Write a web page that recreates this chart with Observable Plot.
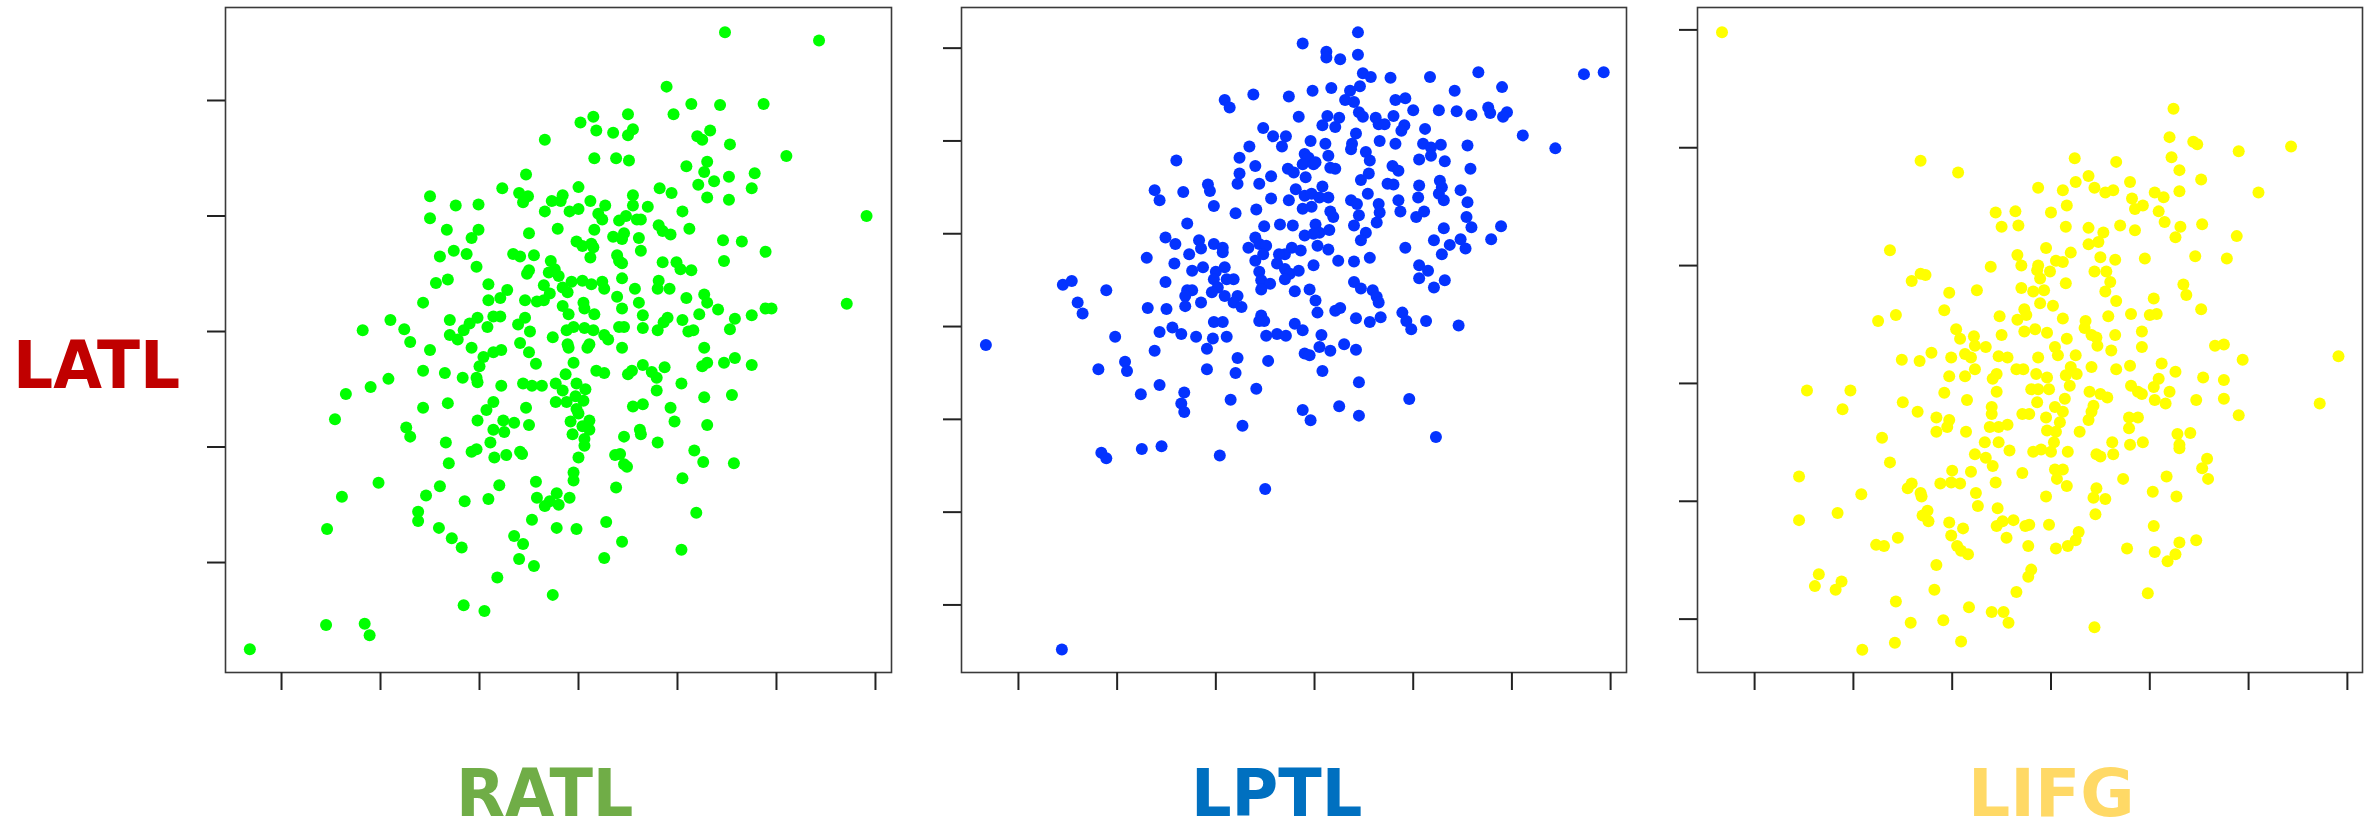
<!DOCTYPE html>
<html><head><meta charset="utf-8">
<script src="https://cdn.jsdelivr.net/npm/d3@7"></script>
<script src="https://cdn.jsdelivr.net/npm/@observablehq/plot@0.6"></script>
<style>
html,body{margin:0;padding:0;background:#fff;}
#root{position:relative;width:2376px;height:832px;overflow:hidden;background:#fff;}
.panel{position:absolute;top:0;}
.lab{position:absolute;font-family:"DejaVu Sans",Verdana,sans-serif;font-weight:bold;font-size:65px;line-height:48px;height:48px;white-space:nowrap;transform-origin:0 50%;}
</style></head>
<body><div id="root"></div>
<script>
// Row / column region names
const rowLabel = "LATL";
const colLabels = ["RATL", "LPTL", "LIFG"];
const colColors = ["#70AD47", "#0070C0", "#FFD966"];
const pointColors = ["#00ff00", "#0433ff", "#ffff00"];

// tick values
const xTicks = [-3, -2, -1, 0, 1, 2, 3];
const yTicksRATL = [-2, -1, 0, 1, 2];
const yTicksLPTL = [-3, -2, -1, 0, 1, 2, 3];
const yTicksLIFG = [-2, -1, 0, 1, 2, 3];

// [x, LATL] pairs
const ratlLatl = [
[1.48,2.59],[2.43,2.52],[0.89,2.12],[1.14,1.97],[1.43,1.96],[1.87,1.97],[0.96,1.88],[0.50,1.88],[0.15,1.86],[0.02,1.81],[0.18,1.74],[0.35,1.72],[0.55,1.75],[0.50,1.70],[1.20,1.69],[1.33,1.74],[1.25,1.66],[1.53,1.62],[-0.34,1.66],[2.10,1.52],[0.16,1.50],[0.38,1.50],[0.51,1.48],[1.09,1.43],[1.30,1.47],[1.27,1.38],[1.52,1.34],[1.78,1.37],[1.37,1.30],[1.21,1.27],[-0.53,1.36],[-0.77,1.24],[0.00,1.25],[-0.60,1.20],[-0.51,1.17],[-0.56,1.12],[-1.50,1.17],[-1.24,1.09],[-1.01,1.10],[-0.16,1.18],[-0.27,1.13],[-0.18,1.13],[0.12,1.13],[0.27,1.09],[0.55,1.18],[0.55,1.09],[0.70,1.08],[0.82,1.24],[0.94,1.20],[1.30,1.16],[1.52,1.14],[1.75,1.24],[1.05,1.04],[-0.34,1.04],[-0.09,1.04],[0.00,1.06],[0.20,1.02],[0.24,0.97],[0.41,0.96],[0.48,1.00],[0.59,0.97],[0.63,0.97],[2.91,1.00],[-1.50,0.98],
[-1.33,0.88],[-1.01,0.88],[-1.08,0.81],[-0.50,0.85],[-0.21,0.89],[0.16,0.88],[0.81,0.92],[0.85,0.87],[0.93,0.84],[1.12,0.89],[0.35,0.82],[0.46,0.85],[0.44,0.80],[0.61,0.81],[-0.02,0.78],[0.04,0.74],[0.13,0.76],[0.15,0.73],[0.63,0.70],[1.46,0.79],[1.65,0.78],[1.89,0.69],[-1.40,0.65],[-1.26,0.70],[-1.13,0.67],[-1.03,0.56],[-0.66,0.67],[-0.59,0.65],[-0.45,0.66],[-0.28,0.61],[-0.24,0.54],[-0.20,0.48],[-0.30,0.51],[-0.52,0.50],[-0.50,0.53],[0.12,0.64],[0.39,0.66],[0.41,0.61],[0.44,0.59],[0.85,0.60],[0.99,0.60],[1.03,0.54],[1.14,0.53],[1.47,0.61],[-1.44,0.42],[-1.32,0.45],[-0.91,0.41],[-0.72,0.36],[-0.79,0.29],[-0.91,0.27],[-1.57,0.25],[-0.54,0.27],[-0.42,0.26],[-0.35,0.27],[-0.29,0.33],[-0.35,0.40],[-0.16,0.38],[-0.07,0.43],[0.04,0.44],[0.13,0.41],[0.24,0.43],[0.26,0.37],[-0.11,0.34],[-0.16,0.22],[-0.10,0.15],[0.05,0.25],[0.06,0.20],[0.16,0.15],[0.39,0.30],[0.44,0.20],[0.57,0.37],[0.44,0.46],[0.61,0.25],[0.65,0.14],[0.81,0.44],[0.80,0.37],[0.92,0.37],[1.09,0.29],[1.27,0.32],[1.30,0.25],[1.41,0.19],[1.22,0.15],[0.90,0.12],[0.86,0.08],[1.05,0.10],[1.58,0.11],[1.75,0.14],[1.89,0.20],[1.95,0.20],[2.71,0.24],[-2.18,0.01],[-1.90,0.10],[-1.76,0.02],[-1.70,-0.09],[-1.50,-0.16],[-1.30,0.10],[-1.30,-0.03],[-1.22,-0.07],[-1.16,0.01],[-1.10,0.07],[-1.02,0.12],[-0.92,0.04],[-0.86,0.13],[-0.79,0.13],[-1.08,-0.14],[-0.96,-0.22],[-1.00,-0.30],[-0.86,-0.18],[-0.78,-0.16],[-0.61,0.06],[-0.54,0.12],[-0.49,0.00],[-0.59,-0.10],[-0.50,-0.18],[-0.43,-0.28],[-0.26,-0.05],[-0.12,0.01],[-0.05,0.04],[0.06,0.03],[0.15,0.01],[0.26,-0.03],[0.30,-0.07],[-0.11,-0.11],[-0.10,-0.14],[0.11,-0.11],[0.09,-0.14],[0.41,0.04],[0.46,0.04],[0.44,-0.14],[0.65,0.03],[0.80,0.01],[1.11,0.00],[1.16,0.01],[1.53,0.02],[1.27,-0.14],[1.25,-0.30],[1.30,-0.27],[1.47,-0.27],[1.58,-0.23],[1.75,-0.29],[-1.57,-0.34],[-1.35,-0.36],[-1.92,-0.41],[-2.10,-0.48],[-2.35,-0.54],[-1.17,-0.40],[-1.03,-0.40],[-1.02,-0.44],[-0.78,-0.47],[-0.56,-0.45],[-0.47,-0.47],[-0.37,-0.47],[-0.23,-0.45],[-0.13,-0.37],[-0.16,-0.51],[-0.02,-0.45],[0.07,-0.50],[0.18,-0.34],[0.26,-0.36],[-0.05,-0.27],[0.50,-0.37],[0.54,-0.34],[0.65,-0.29],[0.74,-0.35],[0.79,-0.40],[0.87,-0.31],[0.79,-0.51],[1.04,-0.45],[1.55,-0.55],[1.27,-0.57],[-1.57,-0.66],[-1.32,-0.62],[-0.93,-0.68],[-0.86,-0.61],[-0.53,-0.66],[-0.23,-0.61],[-0.12,-0.61],[-0.03,-0.56],[0.05,-0.60],[-0.02,-0.67],[0.00,-0.71],[-0.08,-0.78],[0.11,-0.77],[0.04,-0.82],[0.11,-0.85],[-0.06,-0.89],[0.06,-0.93],[0.55,-0.65],[0.65,-0.63],[0.93,-0.66],[0.97,-0.78],[1.30,-0.81],[-2.46,-0.76],[-1.74,-0.83],[-1.70,-0.91],[-1.02,-0.77],[-0.86,-0.85],[-0.76,-0.77],[-0.65,-0.79],[-0.75,-0.87],[-0.50,-0.81],[0.46,-0.91],[0.62,-0.85],[0.63,-0.89],[0.80,-0.96],[-1.34,-0.96],[-0.89,-0.96],
[-1.08,-1.04],[-1.03,-1.02],[-0.85,-1.09],[-0.73,-1.07],[-0.59,-1.04],[-0.57,-1.06],[0.06,-0.99],[1.17,-1.03],[1.26,-1.13],[1.57,-1.14],[0.37,-1.07],[0.42,-1.06],[0.46,-1.15],[0.49,-1.17],[0.00,-1.09],[-0.05,-1.22],[-0.05,-1.29],[-1.31,-1.14],[-2.02,-1.31],[-2.39,-1.43],[-1.40,-1.34],[-1.54,-1.42],[-1.15,-1.47],[-0.91,-1.45],[-0.80,-1.33],[-0.43,-1.30],[-0.42,-1.44],[-0.34,-1.51],[-0.29,-1.47],[-0.22,-1.40],[-0.20,-1.50],[-0.09,-1.44],[0.38,-1.35],[1.05,-1.27],[-1.62,-1.56],[-1.62,-1.64],[-1.41,-1.70],[-1.28,-1.79],[-1.18,-1.87],[-2.54,-1.71],[-0.65,-1.77],[-0.56,-1.84],[-0.47,-1.63],[-0.22,-1.70],[-0.02,-1.71],[0.28,-1.65],[0.44,-1.82],[0.26,-1.96],[1.04,-1.89],[1.19,-1.57],[-0.60,-1.97],[-0.45,-2.03],[-0.82,-2.13],[-0.26,-2.28],[-1.16,-2.37],[-0.95,-2.42],[-2.55,-2.54],[-2.16,-2.53],[-2.11,-2.63],[-3.32,-2.75]
];

const lptlLatl = [
[0.44,3.17],[-0.12,3.05],[0.12,2.96],[0.12,2.90],[0.26,2.88],[0.44,2.93],[0.49,2.73],[0.57,2.69],[0.77,2.68],[1.17,2.69],[1.66,2.74],[2.73,2.72],[2.93,2.74],[0.17,2.57],[-0.02,2.54],[-0.26,2.48],[-0.62,2.50],[-0.91,2.44],[-0.86,2.36],[0.36,2.54],[0.46,2.59],[0.31,2.44],[0.40,2.42],[0.45,2.31],[0.49,2.26],[0.82,2.44],[0.92,2.46],[1.00,2.33],[0.80,2.27],[1.26,2.33],[1.44,2.32],[1.42,2.54],[1.59,2.28],[1.76,2.36],[1.78,2.30],[1.90,2.58],[1.95,2.31],[1.91,2.26],[-0.16,2.26],[0.13,2.27],[0.08,2.17],[0.25,2.25],[0.21,2.15],[0.62,2.25],[0.65,2.18],[0.71,2.18],[0.91,2.17],[0.88,2.11],[1.12,2.13],[-0.52,2.14],[-0.42,2.05],[-0.29,2.05],[-0.33,1.94],[-0.04,2.00],[0.11,1.97],[0.42,2.08],[0.38,1.97],[0.37,1.91],[0.52,1.88],[0.56,1.79],[0.66,2.00],[0.82,1.97],[1.10,1.97],[1.18,1.93],[1.28,1.96],[1.55,1.95],[2.11,2.06],[2.44,1.92],[-0.66,1.94],[-0.76,1.82],[-1.40,1.79],[-0.60,1.73],[-0.44,1.62],[-0.10,1.86],[-0.06,1.82],[-0.12,1.75],[-0.01,1.75],[0.01,1.77],[0.14,1.84],[0.16,1.71],[0.21,1.70],[-0.27,1.70],[-0.21,1.66],[-0.09,1.61],[-0.76,1.65],[-0.78,1.54],[-0.56,1.54],[0.79,1.73],[0.85,1.68],[1.06,1.80],[1.18,1.84],[1.32,1.78],[1.58,1.70],[0.47,1.58],[0.55,1.65],[0.74,1.54],[0.80,1.53],[1.06,1.52],[1.27,1.57],[1.29,1.50],[1.48,1.47],[-1.62,1.47],[-1.57,1.36],[-1.33,1.45],[-1.08,1.53],[-1.06,1.46],[-1.02,1.30],[-0.80,1.22],[-0.59,1.26],[-0.44,1.38],[-0.26,1.36],[-0.19,1.48],[-0.10,1.41],[-0.03,1.43],[0.08,1.51],[0.05,1.39],[0.14,1.39],[-0.12,1.27],[-0.03,1.29],[0.16,1.24],[0.19,1.18],[0.37,1.36],[0.43,1.32],[0.54,1.43],[0.65,1.32],[0.66,1.23],[0.85,1.36],[0.87,1.24],[1.05,1.39],[1.03,1.18],[1.11,1.24],[1.26,1.43],[1.31,1.36],[1.55,1.34],[1.54,1.18],[0.45,1.20],
[-1.29,1.11],[-0.51,1.08],[-0.35,1.10],[-0.22,1.09],[0.01,1.10],[0.05,1.01],[0.15,1.04],[0.40,1.09],[0.63,1.12],[1.31,1.06],[1.59,1.07],[1.89,1.08],[-1.51,0.96],[-1.41,0.89],[-1.17,0.93],[-1.15,0.84],[-1.27,0.78],[-1.02,0.89],[-0.93,0.85],[-0.93,0.80],[-0.60,0.96],[-0.67,0.85],[-0.56,0.89],[-0.49,0.87],[-0.60,0.71],[-0.52,0.78],[-0.30,0.78],[-0.23,0.85],[-0.14,0.82],[-0.10,0.98],[-0.01,1.00],[0.03,0.87],[0.14,0.83],[0.52,1.01],[0.47,0.93],[0.24,0.71],[0.40,0.70],[0.56,0.74],[0.92,0.85],[1.21,0.93],[1.37,0.88],[1.48,0.94],[1.53,0.84],[1.79,0.94],[1.29,0.78],[-1.70,0.74],[-1.42,0.68],[-1.24,0.60],[-1.13,0.64],[-1.00,0.59],[-0.91,0.64],[-1.02,0.51],[-0.89,0.51],[-0.82,0.51],[-0.56,0.59],[-0.38,0.68],[-0.36,0.78],[-0.30,0.62],[-0.25,0.57],[-0.16,0.60],[-0.01,0.66],[-0.54,0.50],[-0.45,0.46],[-0.30,0.51],[1.06,0.66],[1.15,0.60],[1.06,0.52],[1.32,0.50],[1.21,0.42],[-2.55,0.45],[-2.46,0.49],[-2.11,0.39],[-1.51,0.48],[-1.29,0.39],[-1.24,0.39],[-1.31,0.33],[-0.98,0.42],[-1.04,0.37],[-0.78,0.33],[-0.91,0.33],[-0.82,0.26],[-0.74,0.21],[-1.15,0.26],[-0.54,0.40],[-0.20,0.38],[-0.05,0.40],[0.01,0.28],[0.03,0.15],[0.21,0.17],[0.26,0.20],[0.40,0.48],[0.47,0.41],[0.59,0.39],[0.63,0.32],[0.65,0.26],[0.42,0.09],[0.56,0.05],[0.67,0.10],[0.89,0.15],[0.93,0.06],[0.98,-0.03],[1.13,0.06],[1.46,0.01],[-2.40,0.26],[-2.35,0.14],[-1.69,0.20],[-1.50,0.19],[-1.31,0.22],[-1.44,-0.01],[-1.35,-0.08],[-1.57,-0.06],[-1.20,-0.11],[-1.02,0.05],[-0.93,0.05],[-1.03,-0.13],[-1.09,-0.24],[-0.89,-0.11],[-0.54,0.12],[-0.51,0.06],[-0.56,0.06],[-0.49,-0.10],[-0.38,-0.08],[-0.29,-0.10],[-0.20,0.03],[-0.12,-0.04],[0.07,-0.09],[0.05,-0.22],[0.16,-0.26],[0.30,-0.19],[0.42,-0.25],[-0.10,-0.29],[-0.05,-0.31],[-3.33,-0.20],[-2.02,-0.11],[-1.62,-0.26],[-1.92,-0.38],[-1.90,-0.48],[-2.19,-0.46],[-1.09,-0.46],[-0.78,-0.34],[-0.80,-0.50],[-0.47,-0.37],[0.08,-0.48],[-1.57,-0.63],[-1.76,-0.73],[-1.32,-0.71],[-1.35,-0.83],[-1.32,-0.92],[-0.85,-0.79],[-0.59,-0.67],[-0.12,-0.90],[-0.04,-1.01],[0.25,-0.86],[0.45,-0.60],[0.45,-0.96],[0.96,-0.78],[-0.73,-1.07],[1.23,-1.19],
[-2.16,-1.36],[-2.11,-1.42],[-1.75,-1.32],[-1.55,-1.29],[-0.96,-1.39],[-0.50,-1.75],[-2.56,-3.48]
];

const lifgLatl = [
[-3.33,2.98],[1.24,2.33],[1.20,2.09],[1.44,2.05],[1.48,2.03],[1.90,1.97],[2.43,2.01],[-1.32,1.89],[-0.94,1.79],[0.24,1.91],[0.66,1.88],[1.22,1.92],[1.30,1.81],[1.52,1.73],[2.10,1.62],[0.38,1.76],[0.25,1.71],[-0.13,1.66],[0.12,1.64],[0.44,1.66],[0.55,1.62],[0.63,1.64],[0.80,1.71],[0.82,1.57],[1.05,1.62],[1.14,1.58],[1.30,1.63],[0.16,1.51],[0.00,1.45],[-0.56,1.45],[-0.36,1.46],[0.93,1.51],[0.85,1.48],[1.09,1.46],
[-0.50,1.33],[-0.33,1.34],[0.15,1.33],[0.38,1.32],[0.53,1.28],[0.70,1.34],[0.85,1.30],[1.15,1.37],[1.31,1.33],[1.53,1.35],[1.88,1.25],[1.26,1.24],[-1.63,1.13],[-0.05,1.15],[0.20,1.11],[0.38,1.18],[0.48,1.20],[0.50,1.07],[0.65,1.05],[0.95,1.06],[1.46,1.08],[1.78,1.06],[-0.34,1.09],[-0.30,1.00],[-0.13,1.00],[-0.14,0.96],[0.05,1.04],[0.12,1.03],[-0.01,0.95],[-0.11,0.89],[0.15,0.85],[0.44,0.95],[0.56,0.95],[0.60,0.86],[-0.61,0.99],[-1.41,0.87],[-1.32,0.93],[-1.27,0.92],[-1.03,0.77],[-0.75,0.79],[-0.30,0.81],[-0.18,0.78],[-0.07,0.79],[0.55,0.78],[0.66,0.70],[1.04,0.72],[1.34,0.84],[1.37,0.75],[1.52,0.63],[-1.08,0.62],[-0.52,0.57],[-0.34,0.54],[-0.27,0.63],[-0.25,0.58],[-0.11,0.68],[0.02,0.66],[0.12,0.55],[0.35,0.53],[0.34,0.47],[0.58,0.57],[0.81,0.59],[1.00,0.58],[1.07,0.59],[-1.75,0.53],[-1.57,0.58],[-0.96,0.46],[-0.92,0.38],[-0.78,0.40],[-0.77,0.32],[-0.66,0.31],[-0.50,0.41],[-0.27,0.44],[-0.16,0.46],[-0.04,0.43],[0.16,0.38],[0.04,0.31],[0.07,0.24],[0.41,0.41],[0.46,0.39],[0.47,0.32],[0.65,0.41],[0.61,0.28],[0.92,0.44],[0.92,0.31],[1.66,0.32],[1.75,0.33],[2.91,0.23],[-1.51,0.20],[-1.33,0.19],[-1.21,0.26],[-1.01,0.22],[-0.87,0.25],[-0.81,0.22],[-0.53,0.23],[-0.44,0.22],[-0.13,0.22],[0.25,0.24],[0.20,0.14],[0.15,0.07],[0.26,0.08],[0.41,0.14],[0.66,0.12],[0.80,0.15],[1.12,0.17],[1.26,0.10],[1.09,0.04],[1.94,0.20],[-0.35,0.12],[-0.28,0.12],[-0.77,0.12],[-0.87,0.06],[-1.03,0.06],[-0.55,0.08],[-0.59,0.04],[-0.15,0.08],[-0.04,0.05],[-0.55,-0.07],[-0.20,-0.05],[-0.13,-0.05],[-0.02,-0.05],[0.19,-0.02],[0.14,-0.13],[0.39,-0.07],[0.50,-0.09],[0.57,-0.12],[0.81,-0.02],[0.88,-0.07],[0.92,-0.09],[1.04,-0.03],[1.20,-0.07],[1.05,-0.14],[1.16,-0.17],[1.47,-0.14],[1.54,0.05],[1.75,0.03],[1.75,-0.13],[1.90,-0.27],[2.72,-0.17],[-2.47,-0.06],[-2.03,-0.06],[-2.11,-0.22],[-1.50,-0.16],[-1.35,-0.24],[-1.08,-0.08],[-0.85,-0.14],[-0.60,-0.20],[-0.60,-0.26],[-1.16,-0.29],[-1.03,-0.31],[-1.05,-0.37],[-1.16,-0.41],[-0.86,-0.41],[-0.62,-0.37],[-0.53,-0.37],[-0.44,-0.35],[-0.29,-0.26],[-0.22,-0.26],[-0.14,-0.16],[-0.05,-0.29],[0.04,-0.20],[0.12,-0.24],[0.09,-0.33],[-0.04,-0.40],[0.05,-0.41],[0.43,-0.19],[0.41,-0.24],[0.38,-0.31],[0.29,-0.41],[0.79,-0.29],[0.88,-0.29],[0.79,-0.38],[1.28,-0.43],[1.41,-0.42],[-1.71,-0.46],[-0.67,-0.50],[-0.53,-0.50],[0.62,-0.50],[0.80,-0.52],[0.93,-0.50],[1.30,-0.52],
[-0.42,-0.57],[-0.18,-0.58],[-0.10,-0.56],[0.00,-0.58],[0.17,-0.58],[0.03,-0.50],[-0.77,-0.60],[-0.66,-0.63],[-0.59,-0.70],[0.46,-0.60],[0.50,-0.62],[0.63,-0.60],[1.30,-0.55],[-1.63,-0.67],[-2.55,-0.79],[-1.92,-0.94],[-2.16,-1.10],[-2.55,-1.16],[-1.45,-0.89],[-1.41,-0.85],[-1.32,-0.93],[-1.31,-0.96],[-1.12,-0.85],[-1.01,-0.84],[-0.92,-0.85],[-1.00,-0.74],[-0.81,-0.75],[-0.76,-0.93],[-0.74,-1.04],[-0.56,-0.84],[-0.54,-1.06],[-0.29,-0.76],[0.04,-0.73],[0.12,-0.73],[0.06,-0.81],[0.16,-0.87],[-0.05,-0.96],[0.46,-0.89],[0.43,-0.97],[0.55,-0.98],[0.45,-1.11],[0.73,-0.81],[1.03,-0.92],[1.17,-0.79],[1.27,-0.96],[1.58,-0.64],[1.53,-0.72],[1.59,-0.81],[-1.25,-1.08],[-1.30,-1.12],[-1.24,-1.17],[-1.03,-1.18],[-0.89,-1.23],[-1.01,-1.29],[-0.95,-1.38],[-0.91,-1.42],[-0.84,-1.45],[-0.55,-1.21],[-0.49,-1.17],[-0.38,-1.16],[-0.45,-1.31],[-0.26,-1.21],[-0.22,-1.20],[-0.23,-1.38],[-0.02,-1.20],[0.05,-1.40],[0.17,-1.38],[0.25,-1.33],[0.28,-1.26],[0.77,-1.40],[1.04,-1.21],[1.05,-1.43],[1.26,-1.45],[1.30,-1.35],[1.18,-1.51],[1.47,-1.33],[-1.77,-1.37],[-1.69,-1.38],[-1.55,-1.31],[-1.16,-1.54],[-0.20,-1.58],[-0.23,-1.64],[-2.35,-1.62],[-2.39,-1.72],[-2.12,-1.68],[-2.18,-1.75],[-1.18,-1.75],[-0.35,-1.77],[0.98,-1.78],[-1.57,-1.85],[-0.83,-1.90],[-0.60,-1.94],[-0.48,-1.94],[-0.43,-2.03],[-1.42,-2.03],[-1.09,-2.01],[-1.91,-2.26],[-1.58,-2.20],[-0.91,-2.19],[0.44,-2.07]
];

// ---------- layout / drawing ----------
const ML = 22, MR = 3, MT = 7, MB = 26, PH = 665;
const panels = [
  {data: ratlLatl, color: pointColors[0], yTicks: yTicksRATL, left: 225, w: 666, xDomain: [-3.566, 3.162], yDomain: [-2.952, 2.805]},
  {data: lptlLatl, color: pointColors[1], yTicks: yTicksLPTL, left: 961, w: 665, xDomain: [-3.577, 3.161], yDomain: [-3.728, 3.438]},
  {data: lifgLatl, color: pointColors[2], yTicks: yTicksLIFG, left: 1697, w: 665, xDomain: [-3.578, 3.153], yDomain: [-2.453, 3.19]}
];
const root = document.getElementById("root");
panels.forEach(p => {
  const chart = Plot.plot({
    width: p.w + ML + MR, height: PH + MT + MB,
    marginLeft: ML, marginRight: MR, marginTop: MT, marginBottom: MB,
    style: {background: "transparent", overflow: "visible"},
    x: {domain: p.xDomain},
    y: {domain: p.yDomain},
    marks: [
      Plot.dot(p.data, {x: d => d[0], y: d => d[1], r: 6, fill: p.color, stroke: "none"}),
      Plot.frame({stroke: "#3a3a3a", strokeWidth: 1.6}),
      Plot.axisX({ticks: xTicks, tickSize: 18, stroke: "#222", strokeWidth: 2, fill: "none", label: null}),
      Plot.axisY({ticks: p.yTicks, tickSize: 18, stroke: "#222", strokeWidth: 2, fill: "none", label: null})
    ]
  });
  chart.classList.add("panel");
  chart.style.position = "absolute";
  chart.style.left = (p.left - ML) + "px";
  chart.style.top = "0px";
  root.appendChild(chart);
});

// labels (baseline = top + 46.5 for 65px DejaVu Sans with 48px line-height)
const lab = (txt, x, baseline, color, sx) => {
  const d = document.createElement("div");
  d.className = "lab";
  d.textContent = txt;
  d.style.left = x + "px";
  d.style.top = (baseline - 46.5) + "px";
  d.style.color = color;
  d.style.transform = `scaleX(${sx})`;
  root.appendChild(d);
};
lab(rowLabel, 13, 388, "#C00000", 0.97);
lab(colLabels[0], 456, 816, colColors[0], 0.98);
lab(colLabels[1], 1191, 816, colColors[1], 0.98);
lab(colLabels[2], 1968, 816, colColors[2], 1.02);
</script>
</body></html>
